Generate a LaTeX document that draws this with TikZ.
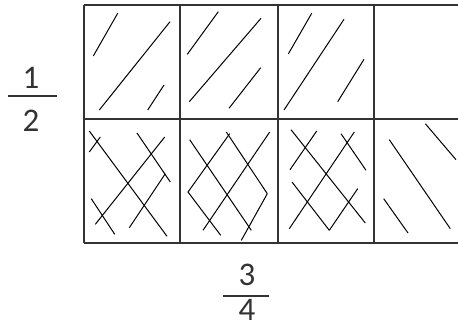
\documentclass[tikz,border=0pt]{standalone}
\usepackage{fontspec}
\setmainfont{Carlito}
\usetikzlibrary{positioning}
\definecolor{gridline}{HTML}{333333}
\tikzset{
  gline/.style={line width=2pt,draw=gridline},
  hatch/.style={line width=1pt,draw=black},
  fracdigit/.style={inner sep=0pt,font=\fontsize{33}{38}\selectfont,text=gridline},
  fracbar/.style={line width=2.2pt,draw=gridline}
}

\begin{document}
\begin{tikzpicture}[x=1pt,y=-1pt]
  \useasboundingbox (0,0) rectangle (458,330);
  % grid, two rows, cut at the right
  \foreach \y in {5,119,243} \draw[gline] (84,\y) -- (458,\y);
  \foreach \x in {84,180,278,374} \draw[gline] (\x,5) -- (\x,243);
  % top row: single hatching
  \foreach \a/\b/\c/\d in {93.3/56/117.7/13.3, 99.3/110/170/21.7, 147.7/110/164/85,
      187.3/54.3/218.3/11.7, 189.3/101.7/261/18.3, 229/108.3/260.7/67.7,
      288.3/54/311.7/13.3, 284/110/344/19.3, 337.7/101.7/364/59.3}
    \draw[hatch] (\a,\b) -- (\c,\d);
  % bottom row: cross hatching
  \foreach \a/\b/\c/\d in {89.3/131/167/236.3, 89.3/152/100.3/137, 95.3/224.3/164.7/137,
      137/133/170.3/182, 91.3/198.7/114.7/234.3, 129.3/227.7/165.3/173.7,
      203/230.3/269.7/132, 188/192/229.7/133.7, 188/192/220.7/235.3,
      189.7/139.7/251.3/230.3, 226.3/132/267.3/193.7, 267.3/193.7/241.3/240.3,
      291/129.7/365.3/223, 290/169.7/316.7/131, 341/133.7/366/170.3,
      354.3/132/289.3/228.7, 292/182/329.3/230.3, 329.3/230.3/357.7/188.7,
      389.3/139.7/450.3/228.7, 383.7/198.7/408/233, 425.3/123.7/456/159.7}
    \draw[hatch] (\a,\b) -- (\c,\d);
  % fractions
  \node[fracdigit] (half-num) at (31,78) {1};
  \node[fracdigit] (half-den) at (31,121) {2};
  \draw[fracbar] (8,96) -- (57,96);
  \node[fracdigit] (quarter-num) at (247,275) {3};
  \node[fracdigit] (quarter-den) at (247,310) {4};
  \draw[fracbar] (223,296) -- (269,296);
\end{tikzpicture}
\end{document}
